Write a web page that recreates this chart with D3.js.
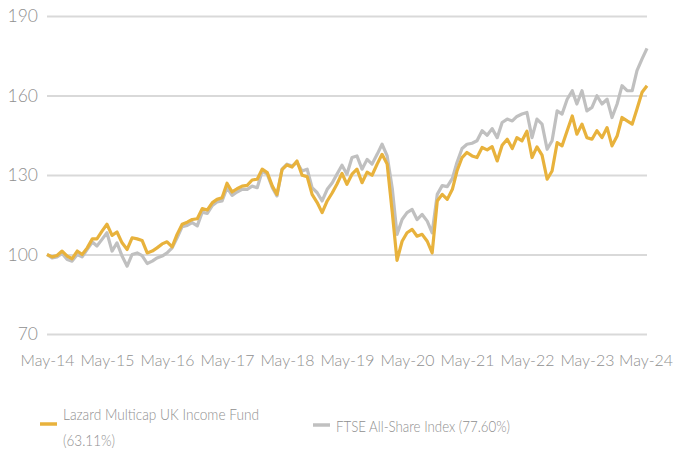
<!DOCTYPE html>
<html>
<head>
<meta charset="utf-8">
<script src="https://cdn.jsdelivr.net/npm/d3@7"></script>
<style>
    body { margin: 0; background: #fff; }
    text { font-family: Lato, Roboto, sans-serif; font-weight: 300; fill: #8f8f8f; }
</style>
</head>
<body>
<div id="chart"></div>
<script>
// Monthly values, rebased to 100 at May-14
const startMonth = new Date(2014, 4, 1);
const yTicks = [70, 100, 130, 160, 190];

const fundValues = [
    100, 99.1, 99.6, 101.3, 99.4, 98.4, 101.3, 100, 102.5, 105.9, 105.9, 108.8,
    111.4, 107.2, 108.5, 104.4, 101.9, 106.3, 105.9, 105.3, 100.6, 101.3, 102.5, 104,
    104.8, 102.9, 107.6, 111.4, 112.2, 113.2, 113.5, 117.3, 116.8, 119.6, 120.8, 121.4,
    126.9, 123.6, 124.8, 125.8, 126.1, 128.1, 128.4, 132.2, 130.9, 125.8, 122.7, 132,
    133.8, 133, 135.3, 129.9, 129.4, 122.7, 119.6, 115.8, 120.2, 123.3, 126.5, 130.6,
    126.5, 130.3, 132.2, 127.1, 131.1, 129.9, 134.1, 137.8, 134.1, 116, 97.8, 105,
    108.2, 109.5, 106.9, 107.6, 105, 100.6, 120.2, 122.7, 120.8, 124.6, 131.5, 136.6,
    138.5, 137.2, 136.6, 140.4, 139.5, 140.7, 135.3, 141.2, 143.5, 140, 144.1, 142.9,
    146.5, 136.6, 140.6, 137.5, 128.4, 131.5, 142.2, 141, 146.7, 152.3, 145.4, 149.2,
    144.1, 143.5, 146.7, 144.1, 147.9, 141, 144.7, 151.7, 150.4, 149.2, 154.9, 161.2,
    163.7
];

const indexValues = [
    100, 98.7, 99.1, 100.4, 98.1, 97.5, 100, 99.1, 101.9, 104.7, 103.2, 105.7,
    108.2, 101.3, 104.4, 99.4, 95.6, 100, 100.6, 99.6, 96.6, 97.5, 98.7, 99.4,
    100.6, 102.5, 106.3, 110.5, 111, 112, 110.8, 116, 115.5, 118.5, 119.8, 120.2,
    125.2, 122.3, 123.6, 124.6, 124.6, 125.8, 125.2, 131.5, 130.3, 125.2, 122.1, 132.2,
    134.1, 133.4, 134.7, 131.5, 132.2, 125.2, 123.3, 120.2, 124.6, 127.1, 130.3, 133.7,
    130.3, 136.6, 137.2, 132.2, 135.9, 134.1, 137.8, 141.6, 137.2, 125, 107.6, 113.2,
    115.8, 117, 113.2, 115.1, 112.6, 108.2, 122.7, 126, 125.6, 128.7, 134.7, 140,
    141.6, 142, 142.9, 146.7, 145, 147.5, 144.1, 149.8, 151.1, 150.4, 152.1, 153,
    153.6, 144.1, 151.1, 149.2, 139.7, 142.9, 154.2, 153, 158.6, 161.8, 156.8, 161.8,
    154.2, 155.5, 159.9, 156.8, 158.6, 151.7, 156.8, 163.7, 161.8, 161.8, 169.4, 173.8,
    177.8
];

const seriesNames = ["Lazard Multicap UK Income Fund", "FTSE All-Share Index"];
const seriesReturns = ["(63.11%)", "(77.60%)"];

const width = 676;
const height = 450;
const margin = { top: 16, right: 29, bottom: 116, left: 47 };
const gold = "#e8b23c";
const grey = "#c0c0c0";

const dates = fundValues.map((d, i) => d3.timeMonth.offset(startMonth, i));
const xTicks = dates.filter((d, i) => i % 12 === 0);

const x = d3.scaleTime()
    .domain([dates[0], dates[dates.length - 1]])
    .range([margin.left, width - margin.right]);

const y = d3.scaleLinear()
    .domain([70, 190])
    .range([height - margin.bottom, margin.top]);

const svg = d3.select("#chart")
    .append("svg")
    .attr("width", width)
    .attr("height", height);

// Gridlines + y labels
const yAxis = svg.append("g")
    .attr("transform", `translate(${margin.left},0)`)
    .call(d3.axisLeft(y)
        .tickValues(yTicks)
        .tickSize(-(width - margin.left - margin.right))
        .tickPadding(9));
yAxis.select(".domain").remove();
yAxis.selectAll("line").attr("stroke", "#d9d9d9").attr("stroke-width", 2);
yAxis.selectAll("text").attr("font-size", 17.5).attr("fill", "#8f8f8f").attr("font-family", null);

// x labels
const xAxis = svg.append("g")
    .attr("transform", `translate(0,${height - margin.bottom})`)
    .call(d3.axisBottom(x)
        .tickValues(xTicks)
        .tickFormat(d3.timeFormat("%b-%y"))
        .tickSize(0)
        .tickPadding(20));
xAxis.select(".domain").remove();
xAxis.selectAll("text")
    .attr("font-size", 16.5)
    .attr("fill", "#8f8f8f")
    .attr("font-family", null)
    .attr("textLength", 54)
    .attr("lengthAdjust", "spacingAndGlyphs");
// keep the last label inside the frame
xAxis.selectAll(".tick:last-of-type text").attr("dx", -1.5);

const line = d3.line()
    .x((d, i) => x(dates[i]))
    .y(d => y(d));

svg.append("path")
    .datum(indexValues)
    .attr("fill", "none")
    .attr("stroke", grey)
    .attr("stroke-width", 3.2)
    .attr("stroke-linejoin", "round")
    .attr("d", line);

svg.append("path")
    .datum(fundValues)
    .attr("fill", "none")
    .attr("stroke", gold)
    .attr("stroke-width", 3.2)
    .attr("stroke-linejoin", "round")
    .attr("d", line);

// Legend (the original face is condensed, so squeeze the text a little)
const legend = svg.append("g").attr("font-size", 16);

legend.append("line")
    .attr("x1", 40).attr("x2", 57)
    .attr("y1", 424).attr("y2", 424)
    .attr("stroke", gold).attr("stroke-width", 3.5);
const fundText = legend.append("text")
    .attr("x", 63).attr("y", 420);
fundText.append("tspan").attr("x", 63)
    .attr("textLength", 196).attr("lengthAdjust", "spacingAndGlyphs")
    .text(seriesNames[0]);
fundText.append("tspan").attr("x", 63).attr("dy", 26)
    .attr("textLength", 52).attr("lengthAdjust", "spacingAndGlyphs")
    .text(seriesReturns[0]);

legend.append("line")
    .attr("x1", 313).attr("x2", 330)
    .attr("y1", 425).attr("y2", 425)
    .attr("stroke", grey).attr("stroke-width", 3.5);
legend.append("text")
    .attr("x", 336).attr("y", 432)
    .attr("textLength", 174).attr("lengthAdjust", "spacingAndGlyphs")
    .text(`${seriesNames[1]} ${seriesReturns[1]}`);
</script>
</body>
</html>
